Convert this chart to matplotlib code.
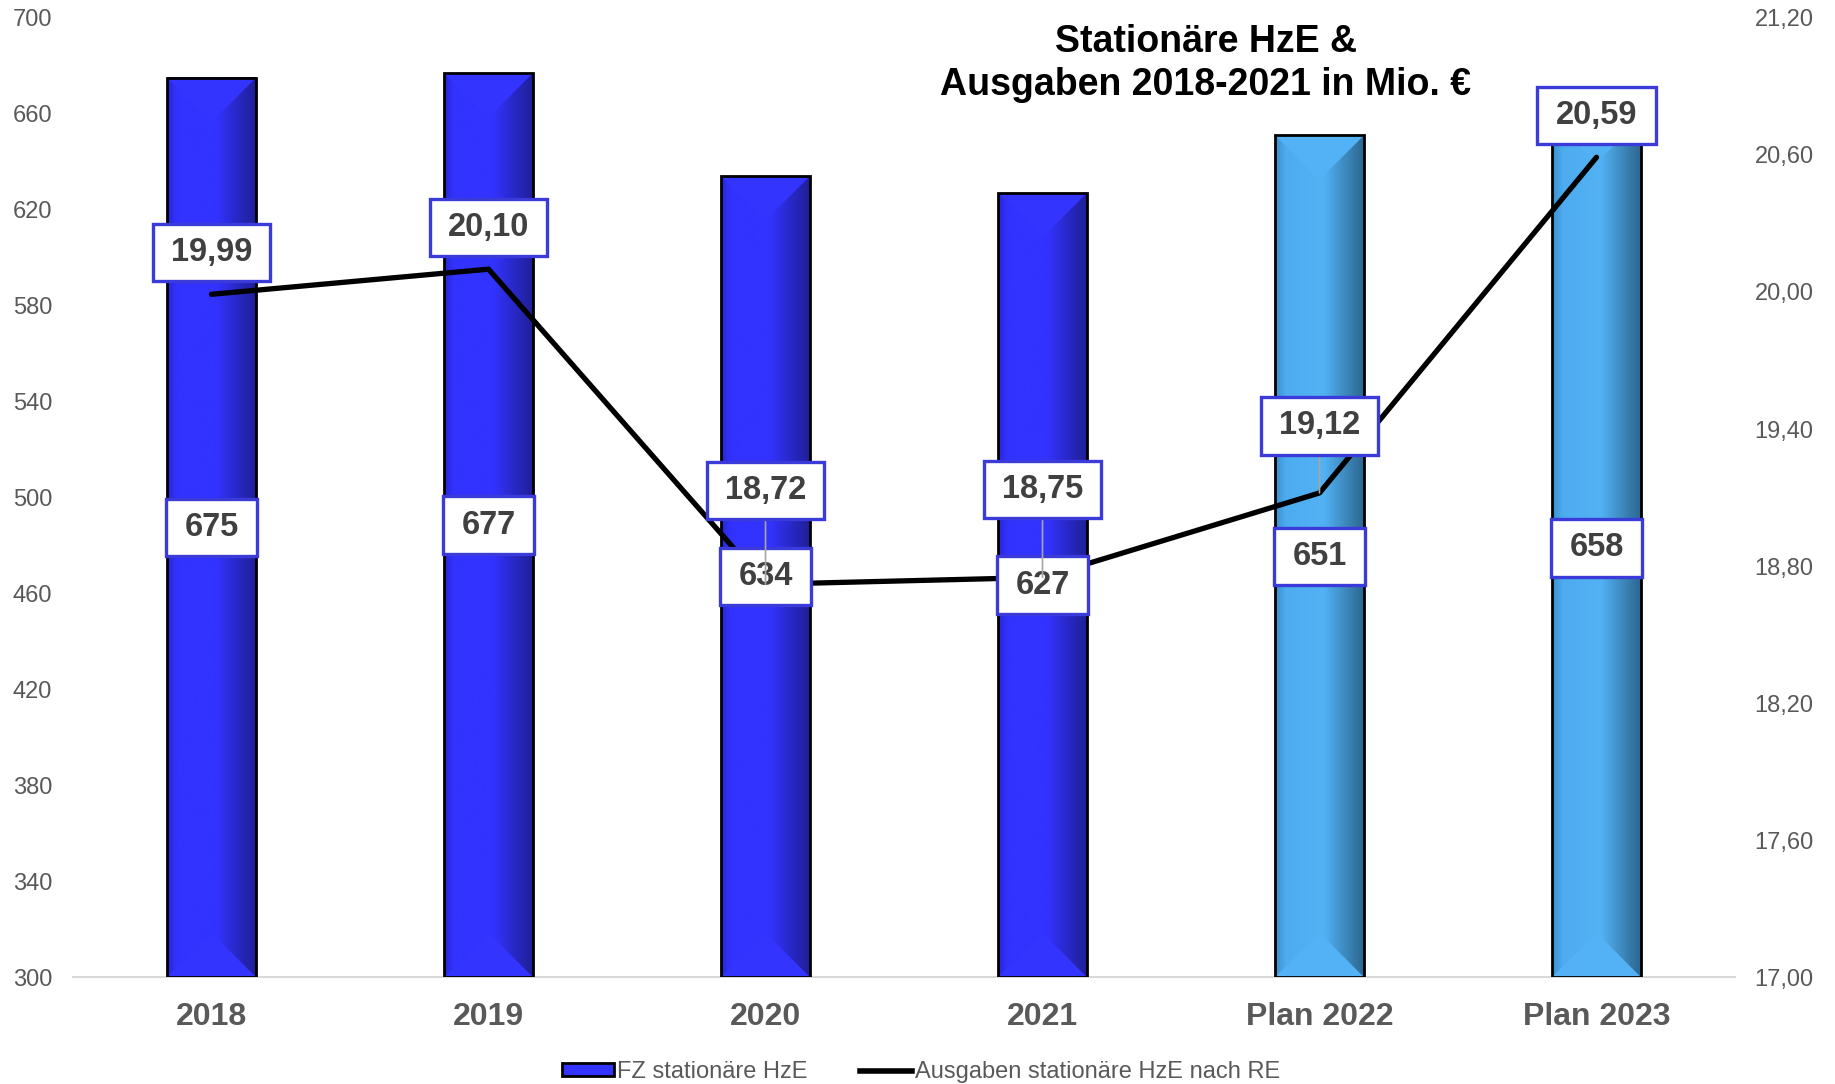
import matplotlib
matplotlib.use('Agg')
import matplotlib.pyplot as plt
import numpy as np
from matplotlib.colors import LinearSegmentedColormap
from matplotlib.patches import Patch, Polygon
from matplotlib.lines import Line2D
from matplotlib.ticker import FuncFormatter

plt.rcParams['font.family'] = ['Liberation Sans', 'DejaVu Sans']

# data
years = ['2018', '2019', '2020', '2021', 'Plan 2022', 'Plan 2023']
fz_count = [675, 677, 634, 627, 651, 658]          # FZ stationäre HzE
spending = [19.99, 20.10, 18.72, 18.75, 19.12, 20.59]  # Ausgaben in Mio. €
is_plan = [False, False, False, False, True, True]

left_ticks = [300, 340, 380, 420, 460, 500, 540, 580, 620, 660, 700]
right_ticks = [17.0, 17.6, 18.2, 18.8, 19.4, 20.0, 20.6, 21.2]

# how far each spending label sits above its point (pixels)
label_lift = [42, 42, 94, 88, 67, 42]

GREY = '#595959'
LABEL = '#404040'


def de(v):
    return f'{v:.2f}'.replace('.', ',')


fig = plt.figure(figsize=(18.35, 10.84), dpi=100)
ax = fig.add_axes([0.0398, 0.0987, 0.9057, 0.8847])
ax.set_xlim(-0.5, 5.5)
ax.set_ylim(300, 700)

x = np.arange(len(years))
heights = np.array(fz_count) - 300

dark = LinearSegmentedColormap.from_list(
    'dark', [(0, '#2727d8'), (0.12, '#3333ff'), (0.55, '#3333ff'), (1, '#1f1f96')])
light = LinearSegmentedColormap.from_list(
    'light', [(0, '#3b8fcc'), (0.12, '#4dacef'), (0.55, '#52b2f4'), (1, '#2c6690')])
grad = np.linspace(0, 1, 256).reshape(1, -1)

# outlines on top, gradient fill + bevel triangles underneath
bars = ax.bar(x, heights, bottom=300, width=0.32, facecolor='none',
              edgecolor='black', linewidth=2, zorder=4)

inv = ax.transData.inverted()
for b, plan in zip(bars, is_plan):
    x0, w = b.get_x(), b.get_width()
    y0, y1 = b.get_y(), b.get_y() + b.get_height()
    ax.imshow(grad, cmap=light if plan else dark, extent=(x0, x0 + w, y0, y1),
              aspect='auto', interpolation='bicubic', zorder=2)
    px_w = ax.transData.transform((x0 + w, 0))[0] - ax.transData.transform((x0, 0))[0]
    dy = inv.transform((0, px_w / 2))[1] - inv.transform((0, 0))[1]
    tri = '#52b2f5' if plan else '#3434ff'
    ax.add_patch(Polygon([(x0, y1), (x0 + w, y1), (x0 + w / 2, y1 - dy)],
                         closed=True, facecolor=tri, edgecolor='none', zorder=3))
    ax.add_patch(Polygon([(x0, y0), (x0 + w, y0), (x0 + w / 2, y0 + dy)],
                         closed=True, facecolor=tri, edgecolor='none', zorder=3))

ax.set_xlim(-0.5, 5.5)
ax.set_ylim(300, 700)

for s in ['top', 'left', 'right']:
    ax.spines[s].set_visible(False)
ax.spines['bottom'].set_color('#d9d9d9')
ax.spines['bottom'].set_linewidth(1.5)

ax.set_yticks(left_ticks)
ax.set_xticks(x)
ax.set_xticklabels(years, fontsize=23, fontweight='bold', color=GREY)
ax.tick_params(axis='x', length=0, pad=18)
ax.tick_params(axis='y', length=0, pad=15, labelsize=17, labelcolor=GREY)

# second axis for spending
ax2 = ax.twinx()
ax2.set_ylim(17, 21.2)
ax2.set_yticks(right_ticks)
ax2.yaxis.set_major_formatter(FuncFormatter(lambda v, _: de(v)))
ax2.tick_params(axis='y', length=0, pad=14, labelsize=17, labelcolor=GREY)
for s in ax2.spines.values():
    s.set_visible(False)

ax2.plot(x, spending, color='black', linewidth=3.8,
         solid_capstyle='round', solid_joinstyle='round', zorder=3)

box = dict(boxstyle='square,pad=0.56', mutation_aspect=0.72,
           facecolor='white', edgecolor='#3b3bd9', linewidth=2.4)

for i, v in enumerate(fz_count):
    ax2.text(i, (300 + v) / 2, str(v), transform=ax.transData,
             ha='center', va='center', fontsize=23.5, fontweight='bold',
             color=LABEL, bbox=box, zorder=5)

for i, (v, lift) in enumerate(zip(spending, label_lift)):
    arrow = None
    if lift > 50:
        arrow = dict(arrowstyle='-', color='#a6a6a6', lw=1.2,
                     shrinkA=0, shrinkB=0)
    ax2.annotate(de(v), xy=(i, v), xytext=(0, lift), textcoords='offset pixels',
                 ha='center', va='center', fontsize=23.5, fontweight='bold',
                 color=LABEL, bbox=box, arrowprops=arrow, zorder=6)

fig.text(0.657, 0.978, 'Stationäre HzE &\nAusgaben 2018-2021 in Mio. €',
         ha='center', va='top', fontsize=27, fontweight='bold',
         color='black', linespacing=1.25)

handles = [Patch(facecolor='#3333ff', edgecolor='black', linewidth=2),
           Line2D([], [], color='black', linewidth=4)]
fig.legend(handles, ['FZ stationäre HzE', 'Ausgaben stationäre HzE nach RE'],
           loc='center', bbox_to_anchor=(0.502, 0.011), ncol=2, frameon=False,
           fontsize=17, handlelength=2.2, handleheight=0.5, handletextpad=0.15,
           columnspacing=2.2, labelcolor=GREY)

fig.savefig('out.png', dpi=100)
